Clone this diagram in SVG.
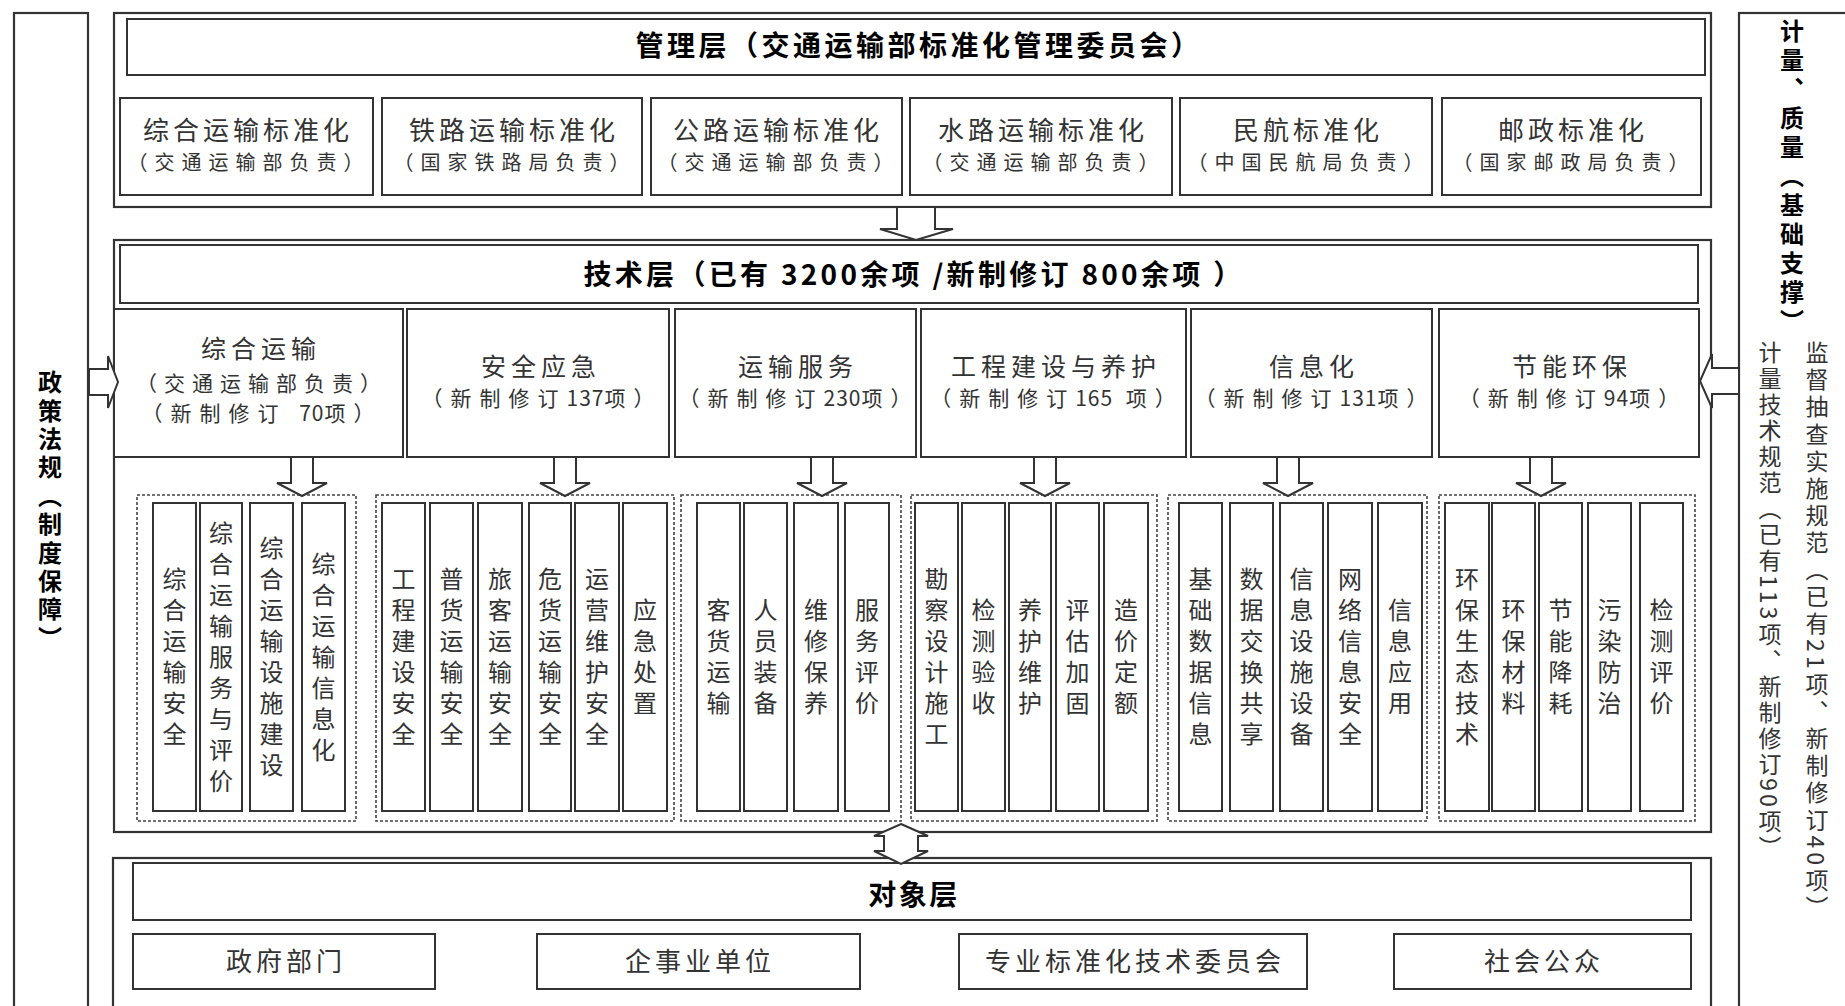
<svg xmlns="http://www.w3.org/2000/svg" width="1845" height="1006" viewBox="0 0 1845 1006">
<style>
text{font-family:"Noto Sans CJK SC","Noto Sans CJK TC",sans-serif;fill:#333}
.box{fill:#fff;stroke:#333;stroke-width:2}
.outer{fill:#fff;stroke:#333;stroke-width:2.2}
.dash{fill:none;stroke:#444;stroke-width:1.6;stroke-dasharray:3 2}
.arrow{fill:#fff;stroke:#333;stroke-width:2;stroke-linejoin:miter}
.c{text-anchor:middle;dominant-baseline:central}
.h{font-size:28px;font-weight:bold;fill:#000;letter-spacing:3.5px}
.t1{font-size:26px;letter-spacing:4px}
.t2{font-size:20px;letter-spacing:7px}
.c1{font-size:25px;letter-spacing:5px}
.c2{font-size:21px;letter-spacing:8px}
.n{letter-spacing:1px}
.o{font-size:26px;letter-spacing:4px}
.v{writing-mode:vertical-rl;text-anchor:middle;font-size:24px;letter-spacing:7px}
.vb{writing-mode:vertical-rl;font-size:24px;font-weight:bold;fill:#000}
.vs{writing-mode:vertical-rl;font-size:23px;letter-spacing:4px}
</style>

<!-- side panels -->
<g id="policy">
<rect class="outer" x="14" y="13" width="74" height="1010"/>
<text class="vb" x="50" y="512" text-anchor="middle" style="letter-spacing:4.4px">政策法规（制度保障）</text>
</g>
<g id="metrology">
<rect class="outer" x="1739" y="13" width="130" height="1010"/>
<text class="vb" x="1792" y="178" text-anchor="middle" style="letter-spacing:5px">计量、质量（基础支撑）</text>
<text class="vs" x="1817" y="341" style="letter-spacing:4.1px">监督抽查实施规范（已有21项、新制修订40项）</text>
<text class="vs" x="1770" y="341" style="letter-spacing:3px">计量技术规范（已有113项、新制修订90项）</text>
</g>

<!-- management layer -->
<g id="management">
<rect class="outer" x="114" y="13" width="1597" height="194"/>
<rect class="box" x="127" y="19" width="1578" height="56"/>
<text class="c h" x="919" y="44">管理层（交通运输部标准化管理委员会）</text>
</g>
<g id="m1"><rect class="box" x="120" y="98" width="253" height="97"/>
<text class="c t1" x="248" y="128">综合运输标准化</text><text class="c t2" x="249" y="161">（交通运输部负责）</text></g>
<g id="m2"><rect class="box" x="382" y="98" width="260" height="97"/>
<text class="c t1" x="514" y="128">铁路运输标准化</text><text class="c t2" x="515" y="161">（国家铁路局负责）</text></g>
<g id="m3"><rect class="box" x="651" y="98" width="251" height="97"/>
<text class="c t1" x="778" y="128">公路运输标准化</text><text class="c t2" x="779" y="161">（交通运输部负责）</text></g>
<g id="m4"><rect class="box" x="910" y="98" width="262" height="97"/>
<text class="c t1" x="1043" y="128">水路运输标准化</text><text class="c t2" x="1044" y="161">（交通运输部负责）</text></g>
<g id="m5"><rect class="box" x="1180" y="98" width="252" height="97"/>
<text class="c t1" x="1308" y="128">民航标准化</text><text class="c t2" x="1309" y="161">（中国民航局负责）</text></g>
<g id="m6"><rect class="box" x="1442" y="98" width="259" height="97"/>
<text class="c t1" x="1573" y="128">邮政标准化</text><text class="c t2" x="1574" y="161">（国家邮政局负责）</text></g>

<!-- technical layer -->
<g id="technical">
<rect class="outer" x="114" y="240" width="1597" height="592"/>
<rect class="box" x="120" y="245" width="1578" height="58"/>
<text class="c h" x="914" y="273" style="letter-spacing:3.3px">技术层（已有 3200余项 /新制修订 800余项 ）</text>
</g>
<g id="t1"><rect class="box" x="114" y="309" width="289" height="148"/>
<text class="c c1" x="261" y="347">综合运输</text><text class="c c2" x="262" y="382" style="letter-spacing:7px">（交通运输部负责）</text><text class="c c2" x="262" y="412">（新制修订 <tspan class="n">70</tspan>项）</text></g>
<g id="t2"><rect class="box" x="407" y="309" width="262" height="148"/>
<text class="c c1" x="541" y="365">安全应急</text><text class="c c2" x="542" y="397">（新制修订<tspan class="n">137</tspan>项）</text></g>
<g id="t3"><rect class="box" x="675" y="309" width="241" height="148"/>
<text class="c c1" x="798" y="365">运输服务</text><text class="c c2" x="799" y="397">（新制修订<tspan class="n">230</tspan>项）</text></g>
<g id="t4"><rect class="box" x="921" y="309" width="265" height="148"/>
<text class="c c1" x="1056" y="365">工程建设与养护</text><text class="c c2" x="1057" y="397">（新制修订<tspan class="n">165</tspan> 项）</text></g>
<g id="t5"><rect class="box" x="1191" y="309" width="241" height="148"/>
<text class="c c1" x="1314" y="365">信息化</text><text class="c c2" x="1315" y="397">（新制修订<tspan class="n">131</tspan>项）</text></g>
<g id="t6"><rect class="box" x="1439" y="309" width="260" height="148"/>
<text class="c c1" x="1572" y="365">节能环保</text><text class="c c2" x="1573" y="397">（新制修订<tspan class="n">94</tspan>项）</text></g>

<!-- group 1 -->
<g id="g1">
<rect class="dash" x="137" y="495" width="219" height="326"/>
<rect class="box" x="153" y="503" width="43" height="308"/><text class="v" x="174.5" y="660">综合运输安全</text>
<rect class="box" x="200" y="503" width="42" height="308"/><text class="v" x="221" y="660">综合运输服务与评价</text>
<rect class="box" x="250" y="503" width="43" height="308"/><text class="v" x="271.5" y="660">综合运输设施建设</text>
<rect class="box" x="302" y="503" width="43" height="308"/><text class="v" x="323.5" y="660">综合运输信息化</text>
</g>
<!-- group 2 -->
<g id="g2">
<rect class="dash" x="376" y="495" width="298" height="326"/>
<rect class="box" x="382" y="503" width="43" height="308"/><text class="v" x="403.5" y="660">工程建设安全</text>
<rect class="box" x="430" y="503" width="43" height="308"/><text class="v" x="451.5" y="660">普货运输安全</text>
<rect class="box" x="478" y="503" width="44" height="308"/><text class="v" x="500" y="660">旅客运输安全</text>
<rect class="box" x="529" y="503" width="42" height="308"/><text class="v" x="550" y="660">危货运输安全</text>
<rect class="box" x="575" y="503" width="44" height="308"/><text class="v" x="597" y="660">运营维护安全</text>
<rect class="box" x="623" y="503" width="44" height="308"/><text class="v" x="645" y="660">应急处置</text>
</g>
<!-- group 3 -->
<g id="g3">
<rect class="dash" x="681" y="495" width="220" height="326"/>
<rect class="box" x="697" y="503" width="43" height="308"/><text class="v" x="718.5" y="660">客货运输</text>
<rect class="box" x="744" y="503" width="43" height="308"/><text class="v" x="765.5" y="660">人员装备</text>
<rect class="box" x="794" y="503" width="44" height="308"/><text class="v" x="816" y="660">维修保养</text>
<rect class="box" x="845" y="503" width="44" height="308"/><text class="v" x="867" y="660">服务评价</text>
</g>
<!-- group 4 -->
<g id="g4">
<rect class="dash" x="911" y="495" width="246" height="326"/>
<rect class="box" x="915" y="503" width="43" height="308"/><text class="v" x="936.5" y="660">勘察设计施工</text>
<rect class="box" x="962" y="503" width="43" height="308"/><text class="v" x="983.5" y="660">检测验收</text>
<rect class="box" x="1009" y="503" width="42" height="308"/><text class="v" x="1030" y="660">养护维护</text>
<rect class="box" x="1056" y="503" width="43" height="308"/><text class="v" x="1077.5" y="660">评估加固</text>
<rect class="box" x="1104" y="503" width="44" height="308"/><text class="v" x="1126" y="660">造价定额</text>
</g>
<!-- group 5 -->
<g id="g5">
<rect class="dash" x="1168" y="495" width="259" height="326"/>
<rect class="box" x="1179" y="503" width="43" height="308"/><text class="v" x="1200.5" y="660">基础数据信息</text>
<rect class="box" x="1230" y="503" width="43" height="308"/><text class="v" x="1251.5" y="660">数据交换共享</text>
<rect class="box" x="1280" y="503" width="43" height="308"/><text class="v" x="1301.5" y="660">信息设施设备</text>
<rect class="box" x="1328" y="503" width="44" height="308"/><text class="v" x="1350" y="660">网络信息安全</text>
<rect class="box" x="1378" y="503" width="44" height="308"/><text class="v" x="1400" y="660">信息应用</text>
</g>
<!-- group 6 -->
<g id="g6">
<rect class="dash" x="1439" y="495" width="256" height="326"/>
<rect class="box" x="1445" y="503" width="44" height="308"/><text class="v" x="1467" y="660">环保生态技术</text>
<rect class="box" x="1492" y="503" width="43" height="308"/><text class="v" x="1513.5" y="660">环保材料</text>
<rect class="box" x="1539" y="503" width="43" height="308"/><text class="v" x="1560.5" y="660">节能降耗</text>
<rect class="box" x="1588" y="503" width="43" height="308"/><text class="v" x="1609.5" y="660">污染防治</text>
<rect class="box" x="1640" y="503" width="43" height="308"/><text class="v" x="1661.5" y="660">检测评价</text>
</g>

<!-- object layer -->
<g id="object">
<rect class="outer" x="113" y="858" width="1598" height="170"/>
<rect class="box" x="133" y="863" width="1558" height="57"/>
<text class="c h" x="914" y="893" style="letter-spacing:2.5px">对象层</text>
</g>
<g id="o1"><rect class="box" x="133" y="934" width="302" height="55"/><text class="c o" x="286" y="959">政府部门</text></g>
<g id="o2"><rect class="box" x="537" y="934" width="323" height="55"/><text class="c o" x="700" y="959">企事业单位</text></g>
<g id="o3"><rect class="box" x="959" y="934" width="348" height="55"/><text class="c o" x="1135" y="959">专业标准化技术委员会</text></g>
<g id="o4"><rect class="box" x="1394" y="934" width="297" height="55"/><text class="c o" x="1544" y="959">社会公众</text></g>

<!-- connectors -->
<g id="connectors">
<polygon class="arrow" points="897,207 935,207 935,229 953,229 916,240 880,229 897,229"/>
<polygon class="arrow" points="291,457 313,457 313,483 327,483 302,496 277,483 291,483"/>
<polygon class="arrow" points="554,457 576,457 576,483 590,483 565,496 540,483 554,483"/>
<polygon class="arrow" points="811,457 833,457 833,483 847,483 822,496 797,483 811,483"/>
<polygon class="arrow" points="1034,457 1056,457 1056,483 1070,483 1045,496 1020,483 1034,483"/>
<polygon class="arrow" points="1277,457 1299,457 1299,483 1313,483 1288,496 1263,483 1277,483"/>
<polygon class="arrow" points="1530,457 1552,457 1552,483 1566,483 1541,496 1516,483 1530,483"/>
<polygon class="arrow" points="89,369 108,369 108,356 118,382 108,408 108,395 89,395"/>
<polygon class="arrow" points="1739,368 1712,368 1712,354 1700,381 1712,408 1712,394 1739,394"/>
<polygon class="arrow" points="901,824 928,836 918,836 918,851 928,851 901,864 874,851 884,851 884,836 874,836"/>
</g>
</svg>
